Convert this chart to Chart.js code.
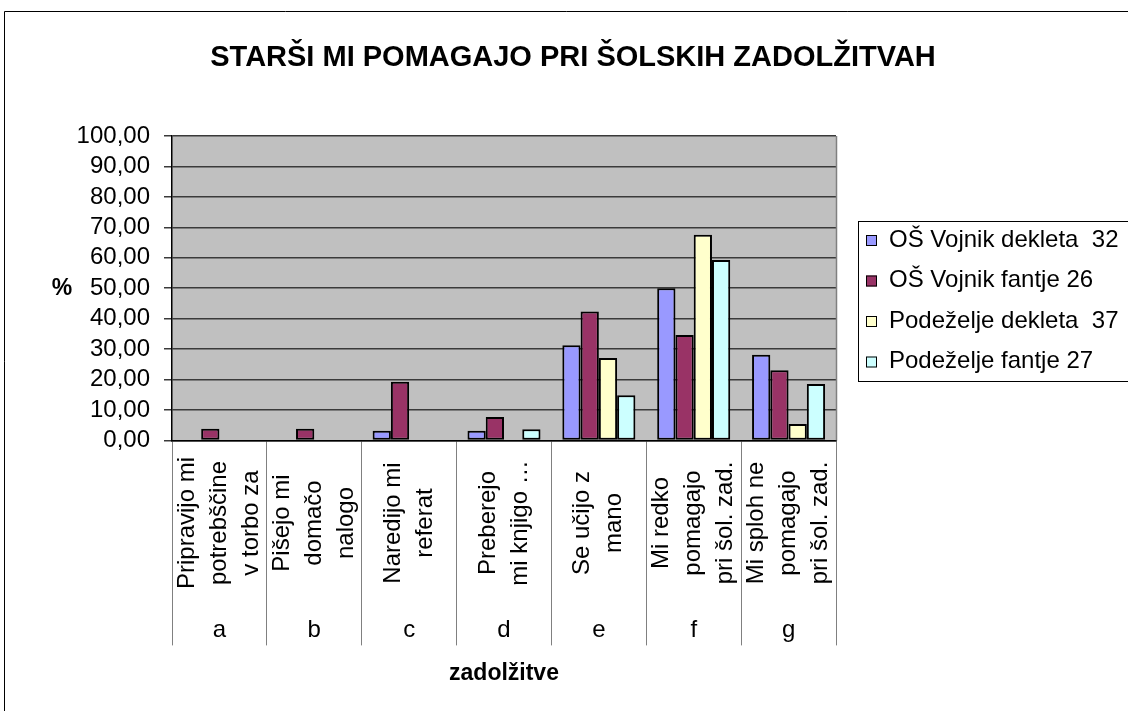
<!DOCTYPE html>
<html>
<head>
<meta charset="utf-8">
<script src="https://cdn.jsdelivr.net/npm/chart.js@4.4.0/dist/chart.umd.min.js"></script>
<style>
  html, body { margin: 0; padding: 0; background: #fff; }
  #wrap { width: 1128px; height: 711px; }
</style>
</head>
<body>
<div id="wrap"><canvas id="chart" width="1128" height="711"></canvas></div>
<script>
// ---- podatki ----
const chartTitle = 'STARŠI MI POMAGAJO PRI ŠOLSKIH ZADOLŽITVAH';
const yTitle = '%';
const xTitle = 'zadolžitve';
const categoryLetters = ['a', 'b', 'c', 'd', 'e', 'f', 'g'];
const categoryTexts = [
    ['Pripravijo mi', 'potrebščine', 'v torbo za'],
    ['Pišejo mi', 'domačo', 'nalogo'],
    ['Naredijo mi', 'referat'],
    ['Preberejo', 'mi knjigo …'],
    ['Se učijo z', 'mano'],
    ['Mi redko', 'pomagajo', 'pri šol. zad.'],
    ['Mi sploh ne', 'pomagajo', 'pri šol. zad.']
];
const seriesNames = ['OŠ Vojnik dekleta  32', 'OŠ Vojnik fantje 26', 'Podeželje dekleta  37', 'Podeželje fantje 27'];
const vojnikDekleta    = [null, null, 3.13, 3.13, 31.25, 50.00, 28.13];
const vojnikFantje     = [3.85, 3.85, 19.23, 7.69, 42.31, 34.62, 23.08];
const podezeljeDekleta = [null, null, null, null, 27.03, 67.57, 5.41];
const podezeljeFantje  = [null, null, null, 3.70, 14.81, 59.26, 18.52];
const seriesColors = ['#9999FF', '#993366', '#FFFFCC', '#CCFFFF'];

const FONT = '"Liberation Sans", Arial, sans-serif';

function buildDataset(label, data, color) {
    return {
        label,
        data,
        backgroundColor: color,
        borderColor: '#000',
        borderWidth: 2,
        borderSkipped: false,
        categoryPercentage: 0.77,
        barPercentage: 1
    };
}

// ozadje, naslovi, kategorije, legenda
const decorPlugin = {
    id: 'decor',
    beforeDraw(chart) {
        const { ctx, chartArea: a } = chart;
        ctx.save();
        ctx.fillStyle = '#fff';
        ctx.fillRect(0, 0, chart.width, chart.height);
        ctx.strokeStyle = '#000';
        ctx.lineWidth = 1;
        ctx.beginPath();
        ctx.moveTo(4.5, chart.height);
        ctx.lineTo(4.5, 11.5);
        ctx.lineTo(chart.width, 11.5);
        ctx.stroke();
        ctx.fillStyle = '#C0C0C0';
        ctx.fillRect(a.left, a.top, a.right - a.left, a.bottom - a.top);
        ctx.restore();
    },
    afterDraw(chart) {
        const { ctx, chartArea: a } = chart;
        const xs = chart.scales.x;
        ctx.save();

        // desni rob risalne površine
        ctx.strokeStyle = '#808080';
        ctx.lineWidth = 1.5;
        ctx.beginPath();
        ctx.moveTo(Math.round(a.right) + 0.5, a.top);
        ctx.lineTo(Math.round(a.right) + 0.5, a.bottom);
        ctx.stroke();

        ctx.fillStyle = '#000';
        // naslov
        ctx.font = 'bold 29px ' + FONT;
        ctx.textAlign = 'center';
        ctx.textBaseline = 'middle';
        ctx.fillText(chartTitle, 573, 58);

        // % ob osi y
        ctx.font = 'bold 23px ' + FONT;
        ctx.fillText(yTitle, 62, 289);

        // kategorije (navpično) + črke
        ctx.font = '24px ' + FONT;
        categoryTexts.forEach((lines, i) => {
            const cx = xs.getPixelForValue(i);
            lines.forEach((line, j) => {
                const off = (j - (lines.length - 1) / 2) * 32;
                ctx.save();
                ctx.translate(cx + off, 523);
                ctx.rotate(-Math.PI / 2);
                ctx.fillText(line, 0, 0);
                ctx.restore();
            });
            ctx.fillText(categoryLetters[i], cx, 630);
        });

        // legenda
        ctx.strokeStyle = '#000';
        ctx.lineWidth = 1;
        ctx.strokeRect(858.5, 221.5, 300, 160);
        ctx.textAlign = 'left';
        chart.data.datasets.forEach((ds, k) => {
            const y = 240 + k * 40.5;
            ctx.fillStyle = ds.backgroundColor;
            ctx.fillRect(866, y - 5, 11, 11);
            ctx.strokeRect(866.5, y - 4.5, 10, 10);
            ctx.fillStyle = '#000';
            ctx.fillText(ds.label, 889, y);
        });
        ctx.restore();
    }
};

new Chart(document.getElementById('chart'), {
    type: 'bar',
    data: {
        labels: categoryLetters,
        datasets: [
            buildDataset(seriesNames[0], vojnikDekleta, seriesColors[0]),
            buildDataset(seriesNames[1], vojnikFantje, seriesColors[1]),
            buildDataset(seriesNames[2], podezeljeDekleta, seriesColors[2]),
            buildDataset(seriesNames[3], podezeljeFantje, seriesColors[3])
        ]
    },
    options: {
        responsive: false,
        animation: false,
        devicePixelRatio: 1,
        layout: { padding: { top: 136, right: 292, left: 0, bottom: 0 } },
        plugins: {
            legend: { display: false },
            title: { display: false },
            tooltip: { enabled: false }
        },
        scales: {
            x: {
                offset: true,
                grid: {
                    offset: true,
                    drawOnChartArea: false,
                    drawTicks: true,
                    tickLength: 205,
                    color: '#808080',
                    lineWidth: 1
                },
                border: { display: true, color: '#000', width: 1.5 },
                ticks: { display: false },
                title: {
                    display: true,
                    text: xTitle,
                    color: '#000',
                    font: { family: FONT, size: 23, weight: 'bold' },
                    padding: { top: 14, bottom: 24 }
                }
            },
            y: {
                min: 0,
                max: 100,
                afterFit: s => { s.width = 172; },
                ticks: {
                    stepSize: 10,
                    autoSkip: false,
                    color: '#000',
                    padding: 14,
                    font: { family: FONT, size: 24 },
                    callback: v => v.toFixed(2).replace('.', ',')
                },
                grid: { color: '#3a3a3a', lineWidth: 1.5, tickLength: 8 },
                border: { display: true, color: '#000', width: 1.5 }
            }
        }
    },
    plugins: [decorPlugin]
});
</script>
</body>
</html>
